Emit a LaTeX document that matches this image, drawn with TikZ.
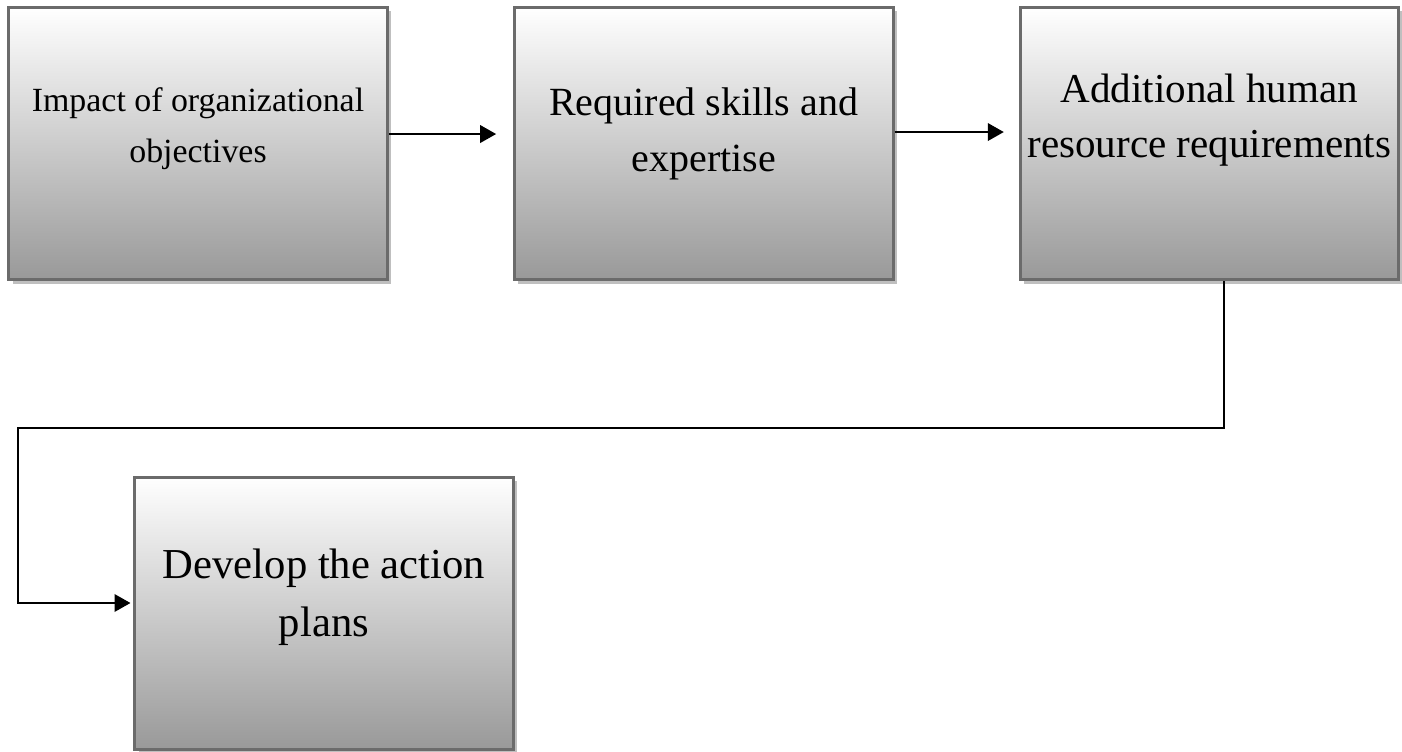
\documentclass[tikz,border=0pt]{standalone}
\usepackage{fontspec}
\usepackage{xcolor}
\setmainfont{Liberation Serif}
\usetikzlibrary{positioning,shadows,arrows.meta}

\tikzset{
  stage/.style={draw=black!58, line width=2.25pt, top color=white, bottom color=black!40,
    minimum width=284pt, minimum height=204pt, inner sep=0pt,
    drop shadow={shadow xshift=3pt, shadow yshift=-3pt, fill=black!25, opacity=1}},
  stagetext/.style={align=center, inner sep=0pt},
  flow/.style={line width=1.9pt, -{Triangle[length=12pt,width=13pt]}}
}

\begin{document}
\begin{tikzpicture}[x=0.75pt, y=-0.75pt]
    \useasboundingbox (0,0) rectangle (1402,752);

    % Boxes
    \node[stage] (b1) at (198,143.5) {};
    \node[stage, right=93pt of b1] (b2) {};
    \node[stage, right=93pt of b2] (b3) {};
    \node[stage] (b4) at (324,613) {};

    % Texts
    \node[stagetext, font=\fontsize{25.4}{38}\selectfont] (t1) at ([yshift=10.9pt]b1.center) {Impact of organizational\\objectives};
    \node[stagetext, font=\fontsize{30}{42.5}\selectfont] (t2) at ([yshift=7.2pt]b2.center) {Required skills and\\expertise};
    \node[stagetext, font=\fontsize{30.8}{41.2}\selectfont] (t3) at ([yshift=17.6pt]b3.center) {Additional human\\resource requirements};
    \node[stagetext, font=\fontsize{32}{43.8}\selectfont] (t4) at ([yshift=11.6pt]b4.center) {Develop the action\\plans};

    % Arrows
    \coordinate (bend) at (18,428);
    \draw[flow] ([yshift=7.1pt]b1.east) -- ([yshift=7.1pt, xshift=-12.5pt]b2.west);
    \draw[flow] ([yshift=8.6pt]b2.east) -- ([yshift=8.6pt, xshift=-11pt]b3.west);
    \draw[flow] ([xshift=11pt]b3.south) |- (bend) |- ([yshift=7.5pt, xshift=-2pt]b4.west);
\end{tikzpicture}
\end{document}
